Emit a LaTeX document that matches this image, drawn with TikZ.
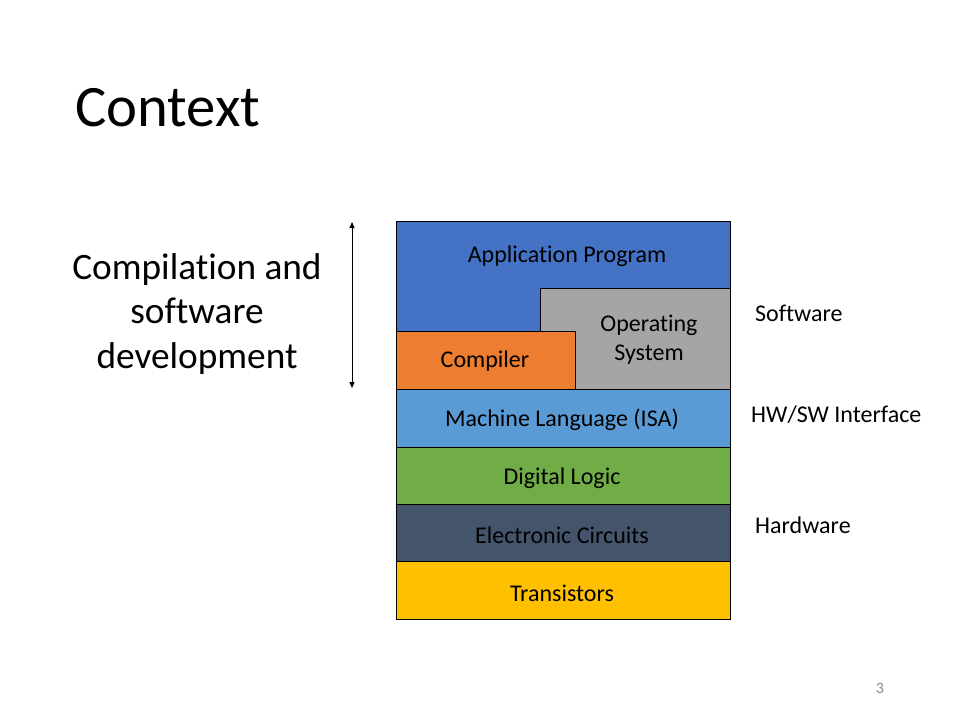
\documentclass[tikz,border=0pt]{standalone}
\usepackage{fontspec}
\setmainfont{Carlito}[Ligatures={NoCommon,NoContextual}]
\usetikzlibrary{arrows.meta}
\definecolor{appblue}{HTML}{4472C4}
\definecolor{osgray}{HTML}{A5A5A5}
\definecolor{comporange}{HTML}{ED7D31}
\definecolor{isablue}{HTML}{5B9BD5}
\definecolor{logicgreen}{HTML}{70AD47}
\definecolor{circslate}{HTML}{44546A}
\definecolor{transyellow}{HTML}{FFC000}
\definecolor{pagegray}{HTML}{8C8C8C}
\begin{document}
\begin{tikzpicture}[x=1pt,y=-1pt,
  layer/.style={draw=black,line width=1pt},
  boxtext/.style={font=\fontsize{24}{29}\selectfont,text=black,inner sep=0pt},
  sidetext/.style={font=\fontsize{24}{29}\selectfont,text=black,inner sep=0pt,anchor=west},
  bigtext/.style={font=\fontsize{37.3}{44.5}\selectfont,text=black,align=center,inner sep=0pt}]
\useasboundingbox[fill=white] (0,0) rectangle (960,720);

% title
\node[font=\fontsize{58.7}{70}\selectfont,anchor=west,inner sep=0pt] (title) at (75,108) {Context};

% software stack
\fill[appblue,layer] (396,221) rectangle (730,389);
\fill[osgray,layer] (540,288) rectangle (730,389);
\fill[comporange,layer] (396,331) rectangle (575,389);
\fill[isablue,layer] (396,389) rectangle (730,447);
\fill[logicgreen,layer] (396,447) rectangle (730,504);
\fill[circslate,layer] (396,504) rectangle (730,561.5);
\fill[transyellow,layer] (396,561.5) rectangle (730,619);

\node[boxtext] (app) at (567,256) {Application Program};
\node[boxtext,align=center] (os) at (649,339.5) {Operating\\System};
\node[boxtext] (comp) at (485,361) {Compiler};
\node[boxtext] (isa) at (562,420) {Machine Language (ISA)};
\node[boxtext] (logic) at (562,478) {Digital Logic};
\node[boxtext] (circ) at (562,535) {Electronic Circuits};
\node[boxtext] (trans) at (562,593) {Transistors};

% side labels
\node[sidetext] (sw) at (755,313) {Software};
\node[sidetext] (hwsw) at (751,415) {HW/SW Interface};
\node[sidetext] (hw) at (755,525) {Hardware};

% left caption with its span arrow
\node[bigtext] (dev) at (197,314) {Compilation and\\software\\development};
\coordinate (spantop) at (352,222);
\coordinate (spanbot) at (352,388);
\draw[line width=1pt,{Triangle[length=6pt,width=5pt]}-{Triangle[length=6pt,width=5pt]}] (spantop) -- (spanbot);

% page number
\node[font=\fontsize{16}{19}\selectfont,text=pagegray,inner sep=0pt] (page) at (880,688) {3};
\end{tikzpicture}
\end{document}
